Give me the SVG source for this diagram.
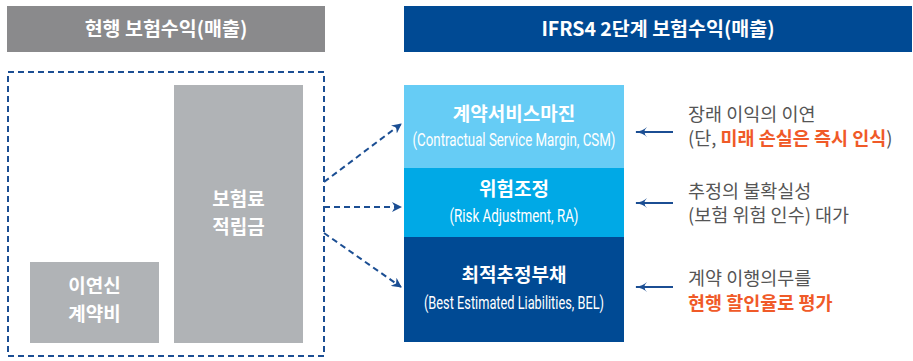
<svg xmlns="http://www.w3.org/2000/svg" width="913" height="361" viewBox="0 0 913 361">
<defs>
<marker id="ah" viewBox="0 0 10 10" refX="9" refY="5" markerWidth="10" markerHeight="10" markerUnits="userSpaceOnUse" orient="auto">
<path d="M0,0 L10,5 L0,10 L3,5 Z" fill="#1b4e93"/>
</marker>
<marker id="ah2" viewBox="0 0 12 10" refX="11" refY="5" markerWidth="12" markerHeight="10" markerUnits="userSpaceOnUse" orient="auto">
<path d="M0,0 Q4,4 12,5 Q4,6 0,10 Q5,5 0,0 Z" fill="#1b4e93"/>
</marker>
<style>
.k{font-family:"Noto Sans CJK KR","Noto Sans",sans-serif}
.hd{font-size:19.5px;font-weight:bold;fill:#fff;text-anchor:middle}
.bx{font-size:19px;font-weight:bold;fill:#fff;text-anchor:middle}
.en{font-family:"Roboto","Noto Sans CJK KR",sans-serif;font-size:18px;fill:#fff;text-anchor:middle}
.ds{fill:none;stroke:#1b4e93;stroke-width:2;stroke-dasharray:6,4}
.ar{fill:none;stroke:#1b4e93;stroke-width:2}
.nt{font-size:18.5px;fill:#555}
.rd{fill:#f05a28;font-weight:bold}
</style>
</defs>
<g id="header-left">
<rect x="7" y="6" width="318" height="46" fill="#8a8a8c"/>
<text class="k hd" x="166" y="36">현행 보험수익(매출)</text>
</g>
<g id="header-right">
<rect x="404" y="6" width="508" height="46" fill="#004a94"/>
<text class="k hd" x="658" y="36">IFRS4 2단계 보험수익(매출)</text>
</g>
<g id="current-box">
<rect class="ds" x="8" y="72" width="316" height="284"/>
</g>
<g id="deferred-cost">
<rect x="30" y="262" width="129" height="81" fill="#b0b3b6"/>
<text class="k bx" x="94.5" y="293">이연신</text>
<text class="k bx" x="94.5" y="321">계약비</text>
</g>
<g id="premium-reserve">
<rect x="174" y="85" width="129" height="258" fill="#b0b3b6"/>
<text class="k bx" x="238.5" y="206">보험료</text>
<text class="k bx" x="238.5" y="234">적립금</text>
</g>
<g id="csm">
<rect x="404" y="85" width="220" height="83" fill="#66ccf5"/>
<text class="k bx" x="514" y="121">계약서비스마진</text>
<text class="en" x="514" y="146" textLength="203" lengthAdjust="spacingAndGlyphs">(Contractual Service Margin, CSM)</text>
</g>
<g id="ra">
<rect x="404" y="168" width="220" height="69" fill="#00a9e6"/>
<text class="k bx" x="514" y="196">위험조정</text>
<text class="en" x="514" y="222" textLength="129" lengthAdjust="spacingAndGlyphs">(Risk Adjustment, RA)</text>
</g>
<g id="bel">
<rect x="404" y="237" width="220" height="105" fill="#004a94"/>
<text class="k bx" x="514" y="282">최적추정부채</text>
<text class="en" x="514" y="309" textLength="180" lengthAdjust="spacingAndGlyphs">(Best Estimated Liabilities, BEL)</text>
</g>
<g id="connectors">
<path class="ds" d="M324,182 L401,124" marker-end="url(#ah)"/>
<path class="ds" d="M324,207 L401,207" marker-end="url(#ah)"/>
<path class="ds" d="M324,233 L401,287" marker-end="url(#ah)"/>
<path class="ar" d="M673,132 L636,132" marker-end="url(#ah2)"/>
<path class="ar" d="M673,203 L636,203" marker-end="url(#ah2)"/>
<path class="ar" d="M673,287 L636,287" marker-end="url(#ah2)"/>
</g>
<g id="note-csm">
<text class="k nt" x="688" y="121">장래 이익의 이연</text>
<text class="k nt" x="688" y="145">(단, <tspan class="rd">미래 손실은 즉시 인식</tspan>)</text>
</g>
<g id="note-ra">
<text class="k nt" x="688" y="198">추정의 불확실성</text>
<text class="k nt" x="688" y="222">(보험 위험 인수) 대가</text>
</g>
<g id="note-bel">
<text class="k nt" x="688" y="285">계약 이행의무를</text>
<text class="k nt rd" x="688" y="310">현행 할인율로 평가</text>
</g>
</svg>
